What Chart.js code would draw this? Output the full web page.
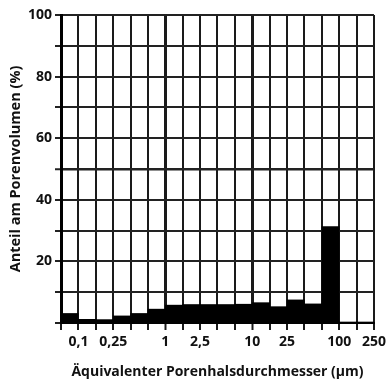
<!DOCTYPE html>
<html>
<head>
<meta charset="utf-8">
<script src="https://cdn.jsdelivr.net/npm/chart.js@4.4.1/dist/chart.umd.min.js"></script>
<style>
  html, body { margin: 0; padding: 0; background: #fff; }
  #wrap { width: 390px; height: 381px; }
</style>
</head>
<body>
<div id="wrap"><canvas id="chart"></canvas></div>
<script>
// Porenhalsklassen (µm), je 1/5 Dekade breit, von 0,063 bis 250
const binLabels = ['0,063–0,1', '0,1–0,16', '0,16–0,25', '0,25–0,4', '0,4–0,63', '0,63–1',
                   '1–1,6', '1,6–2,5', '2,5–4', '4–6,3', '6,3–10', '10–16',
                   '16–25', '25–40', '40–63', '63–100', '100–160', '160–250']
// Anteil am Porenvolumen (%)
const binValues = [3.1, 1.2, 1.1, 2.3, 3.1, 4.5, 5.8, 6.0, 6.0, 6.0, 6.1, 6.6, 5.3, 7.5, 6.2, 31.3, 0.3, 0.3]
// beschriftete Achsenwerte
const tickValues = [0.1, 0.25, 1, 2.5, 10, 25, 100, 250]
const tickLabels = ['0,1', '0,25', '1', '2,5', '10', '25', '100', '250']

// Klassengrenzen auf der log. Achse
const binEdges = []
for (let k = 0; k <= binValues.length; k++) binEdges.push(Math.pow(10, (k - 6) / 5))

const points = binValues.map((v, i) => ({ x: Math.sqrt(binEdges[i] * binEdges[i + 1]), y: v }))

function labelFor(value) {
    for (let i = 0; i < tickValues.length; i++) {
        if (Math.abs(Math.log10(value / tickValues[i])) < 0.02) return tickLabels[i]
    }
    return ''
}

const font = { family: 'Open Sans', weight: 'bold', size: 14 }

const ctx = document.getElementById('chart').getContext('2d')
new Chart(ctx, {
    type: 'bar',
    data: {
        labels: binLabels,
        datasets: [{
            label: 'Anteil am Porenvolumen',
            data: points,
            backgroundColor: '#000',
            borderWidth: 0,
            barPercentage: 1,
            categoryPercentage: 1,
        }]
    },
    options: {
        responsive: true,
        maintainAspectRatio: false,
        animation: false,
        layout: { padding: { top: 15, right: 13, left: 0, bottom: 0 } },
        plugins: {
            legend: { display: false },
            tooltip: { enabled: false }
        },
        scales: {
            x: {
                type: 'logarithmic',
                min: binEdges[0],
                max: binEdges[binEdges.length - 1],
                bounds: 'data',
                offset: false,
                afterBuildTicks: axis => { axis.ticks = binEdges.map(v => ({ value: v })) },
                afterFit: axis => { axis.height = 58 },
                grid: {
                    offset: false,
                    color: '#1a1a1a',
                    lineWidth: c => (c.tick && (labelFor(c.tick.value) === '1' || labelFor(c.tick.value) === '10')) ? 3 : 2,
                    tickLength: 7,
                    tickColor: '#1a1a1a',
                    tickWidth: 2
                },
                border: { color: '#000', width: 2 },
                ticks: {
                    autoSkip: false,
                    maxRotation: 0,
                    padding: 4,
                    color: '#111',
                    font: font,
                    callback: v => labelFor(v)
                },
                title: {
                    display: true,
                    text: 'Äquivalenter Porenhalsdurchmesser (µm)',
                    color: '#111',
                    font: font,
                    padding: { top: 0, bottom: 1 }
                }
            },
            y: {
                min: 0,
                max: 100,
                afterFit: axis => { axis.width = 61 },
                grid: {
                    color: '#222',
                    lineWidth: c => (c.tick && c.tick.value === 50) ? 2.5 : 2,
                    tickLength: 6,
                    tickColor: '#222',
                    tickWidth: 2
                },
                border: { color: '#000', width: 3 },
                ticks: {
                    stepSize: 10,
                    padding: 3,
                    color: '#111',
                    font: font,
                    callback: v => (v > 0 && v % 20 === 0) ? v : ''
                },
                title: {
                    display: true,
                    text: 'Anteil am Porenvolumen (%)',
                    color: '#111',
                    font: { family: 'Open Sans', weight: 'bold', size: 14.5 },
                    padding: { top: 7, bottom: 0 }
                }
            }
        }
    }
})
</script>
</body>
</html>
